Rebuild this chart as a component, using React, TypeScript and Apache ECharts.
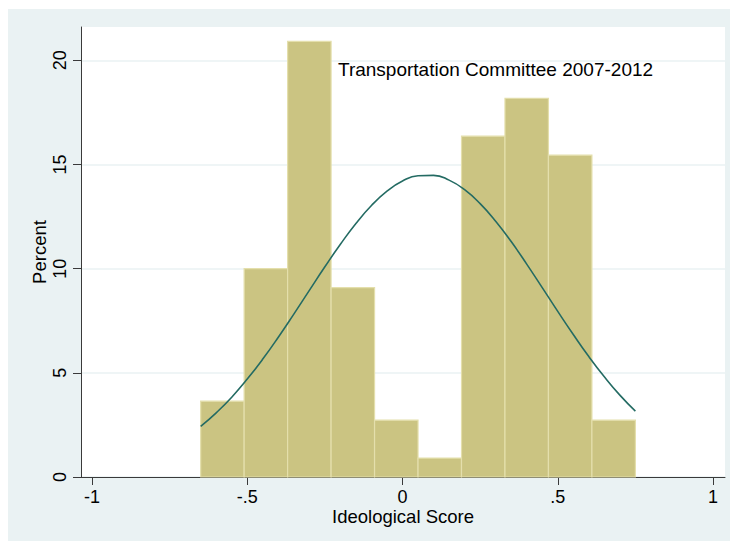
import React, { useEffect, useRef } from "react";
import * as echarts from "echarts";

const binEdges = [-0.65, -0.51, -0.37, -0.23, -0.09, 0.05, 0.19, 0.33, 0.47, 0.61, 0.75];
const percents = [3.64, 10.0, 20.91, 9.09, 2.73, 0.91, 16.36, 18.18, 15.45, 2.73];

const curveX = [
  -0.65, -0.6, -0.55, -0.5, -0.45, -0.4, -0.35, -0.3, -0.25, -0.2,
  -0.15, -0.1, -0.05, 0.0, 0.05, 0.1, 0.15, 0.2, 0.25, 0.3,
  0.35, 0.4, 0.45, 0.5, 0.55, 0.6, 0.65, 0.7, 0.75,
];
const curveY = [
  2.43, 3.08, 3.83, 4.7, 5.66, 6.71, 7.82, 8.96, 10.09, 11.17,
  12.17, 13.03, 13.72, 14.21, 14.46, 14.48, 14.25, 13.79, 13.12, 12.28,
  11.3, 10.22, 9.09, 7.95, 6.84, 5.78, 4.81, 3.93, 3.16,
];

const xTicks = [-1, -0.5, 0, 0.5, 1];
const xTickLabels = ["-1", "-.5", "0", ".5", "1"];
const yTicks = [0, 5, 10, 15, 20];
const yTickLabels = ["0", "5", "10", "15", "20"];

const xTitle = "Ideological Score";
const yTitle = "Percent";
const note = "Transportation Committee 2007-2012";

const FONT = "'Liberation Sans', Arial, Helvetica, sans-serif";
const BG = "#EAF2F3";
const AXIS = "#3a3a3a";

export default function App() {
  const ref = useRef<HTMLDivElement>(null);

  useEffect(() => {
    if (!ref.current) return;
    const chart = echarts.init(ref.current, null, { renderer: "svg" });

    const barData = percents.map((p, i) => [binEdges[i], binEdges[i + 1], p]);
    const lineData = curveX.map((x, i) => [x, curveY[i]]);

    const option: any = {
      animation: false,
      backgroundColor: BG,
      textStyle: { fontFamily: FONT },
      grid: {
        left: 73,
        top: 18,
        right: 5,
        bottom: 64,
        show: true,
        backgroundColor: "#ffffff",
        borderWidth: 0,
        containLabel: false,
      },
      xAxis: {
        type: "value",
        min: -1.0354,
        max: 1.0386,
        name: xTitle,
        nameLocation: "middle",
        nameGap: 30,
        nameMoveOverlap: false,
        nameTextStyle: { fontSize: 18.5, color: "#000", fontFamily: FONT },
        axisLine: { show: true, onZero: false, lineStyle: { color: AXIS, width: 1 } },
        axisTick: {
          show: true,
          customValues: xTicks,
          length: 8,
          lineStyle: { color: AXIS, width: 1 },
        },
        axisLabel: {
          customValues: xTicks,
          fontSize: 18,
          color: "#000",
          fontFamily: FONT,
          margin: 11,
          formatter: (v: number) => {
            const idx = xTicks.findIndex((t) => Math.abs(t - v) < 1e-9);
            return idx >= 0 ? xTickLabels[idx] : "";
          },
        },
        splitLine: { show: false },
      },
      yAxis: {
        type: "value",
        min: 0,
        max: 21.6,
        interval: 5,
        name: yTitle,
        nameLocation: "middle",
        nameGap: 32,
        nameRotate: 90,
        nameMoveOverlap: false,
        nameTextStyle: { fontSize: 18.5, color: "#000", fontFamily: FONT },
        axisLine: { show: true, onZero: false, lineStyle: { color: AXIS, width: 1 } },
        axisTick: {
          show: true,
          customValues: yTicks,
          length: 8,
          lineStyle: { color: AXIS, width: 1 },
        },
        axisLabel: {
          customValues: yTicks,
          rotate: 90,
          fontSize: 18,
          color: "#000",
          fontFamily: FONT,
          margin: 12,
          formatter: (v: number) => {
            const idx = yTicks.findIndex((t) => Math.abs(t - v) < 1e-9);
            return idx >= 0 ? yTickLabels[idx] : "";
          },
        },
        splitLine: { show: true, lineStyle: { color: BG, width: 1.5 } },
      },
      graphic: [
        {
          type: "text",
          x: 330,
          y: 60,
          z: 100,
          style: {
            text: note,
            fontSize: 19,
            fontFamily: FONT,
            fill: "#000",
            verticalAlign: "middle",
            align: "left",
          },
        },
      ],
      series: [
        {
          type: "custom",
          z: 2,
          data: barData,
          encode: { x: [0, 1], y: 2 },
          renderItem: (params: any, api: any) => {
            const x0 = api.value(0);
            const x1 = api.value(1);
            const h = api.value(2);
            const p0 = api.coord([x0, h]);
            const p1 = api.coord([x1, 0]);
            return {
              type: "rect",
              shape: {
                x: p0[0],
                y: p0[1],
                width: p1[0] - p0[0],
                height: p1[1] - p0[1],
              },
              style: { fill: "#CBC482", stroke: "#E4DFAC", lineWidth: 1.2 },
            };
          },
        },
        {
          type: "line",
          z: 3,
          data: lineData,
          smooth: 0.5,
          showSymbol: false,
          symbol: "none",
          lineStyle: { color: "#246B63", width: 1.6 },
        },
      ],
    };

    chart.setOption(option);
    return () => chart.dispose();
  }, []);

  return (
    <div
      ref={ref}
      style={{ position: "fixed", left: 8, top: 9, width: 722, height: 532 }}
    />
  );
}
